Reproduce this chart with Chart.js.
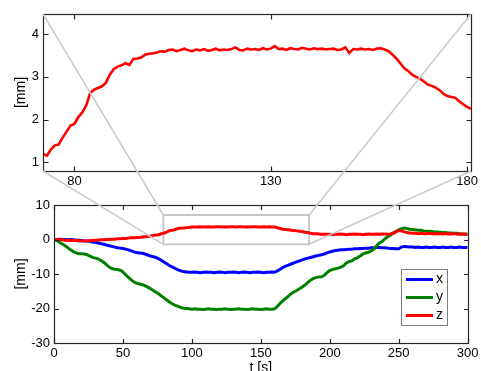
<!DOCTYPE html>
<html><head><meta charset="utf-8">
<script src="https://cdn.jsdelivr.net/npm/chart.js@4.4.0/dist/chart.umd.min.js"></script>
<style>
html,body{margin:0;padding:0;background:#fff;overflow:hidden;width:481px;height:371px}
#wrap{position:relative;width:481px;height:371px;overflow:hidden;background:#fff}
canvas{position:absolute;left:0}
#top{top:0}#bot{top:192px}#ov{top:0;pointer-events:none}
</style></head><body>
<div id="wrap">
<canvas id="top" width="481" height="192"></canvas>
<canvas id="bot" width="481" height="200"></canvas>
<canvas id="ov" width="481" height="371"></canvas>
</div>
<script>
// ---- bottom plot data: time [s] and x, y, z [mm]
const t = [
0,2,4,6,8,10,12,14,16,18,
20,22,24,26,28,30,32,34,36,38,
40,42,44,46,48,50,52,54,56,58,
60,62,64,66,68,70,72,74,76,78,
80,82,84,86,88,90,92,94,96,98,
100,102,104,106,108,110,112,114,116,118,
120,122,124,126,128,130,132,134,136,138,
140,142,144,146,148,150,152,154,156,158,
160,162,164,166,168,170,172,174,176,178,
180,182,184,186,188,190,192,194,196,198,
200,202,204,206,208,210,212,214,216,218,
220,222,224,226,228,230,232,234,236,238,
240,242,244,246,248,250,252,254,256,258,
260,262,264,266,268,270,272,274,276,278,
280,282,284,286,288,290,292,294,296,298,
300];
const xSeries = [
0,0,0.1,0,0,-0.1,0,-0.1,-0.2,-0.2,
-0.3,-0.4,-0.4,-0.5,-0.7,-0.8,-1.0,-1.2,-1.4,-1.6,
-1.8,-2.0,-2.2,-2.4,-2.5,-2.6,-2.8,-3.0,-3.3,-3.6,
-3.8,-3.9,-4.0,-4.2,-4.5,-4.8,-5.0,-5.2,-5.6,-6.1,
-6.6,-7.1,-7.6,-8.0,-8.4,-8.8,-9.1,-9.3,-9.4,-9.5,
-9.5,-9.4,-9.5,-9.6,-9.5,-9.4,-9.5,-9.5,-9.6,-9.5,
-9.4,-9.5,-9.6,-9.5,-9.5,-9.4,-9.5,-9.6,-9.5,-9.4,
-9.5,-9.6,-9.5,-9.5,-9.4,-9.5,-9.6,-9.5,-9.5,-9.4,
-9.5,-9.1,-8.6,-8.1,-7.7,-7.4,-7.1,-6.8,-6.5,-6.2,
-5.9,-5.6,-5.4,-5.2,-5.0,-4.8,-4.6,-4.4,-4.2,-3.9,
-3.6,-3.4,-3.2,-3.1,-3.0,-3.0,-2.9,-2.8,-2.8,-2.7,
-2.7,-2.6,-2.6,-2.5,-2.5,-2.4,-2.4,-2.3,-2.3,-2.4,
-2.4,-2.5,-2.6,-2.6,-2.7,-2.7,-2.2,-2.0,-2.1,-2.2,
-2.2,-2.3,-2.2,-2.3,-2.3,-2.2,-2.3,-2.3,-2.2,-2.3,
-2.3,-2.2,-2.3,-2.3,-2.2,-2.3,-2.3,-2.2,-2.3,-2.3,
-2.3];
const ySeries = [
0,-0.3,-0.8,-1.3,-1.8,-2.4,-3.0,-3.5,-3.9,-4.1,
-4.1,-4.2,-4.4,-4.8,-5.2,-5.4,-5.6,-6.1,-6.6,-7.3,
-8.0,-8.4,-8.6,-8.7,-8.9,-9.4,-10.2,-11.0,-11.7,-12.3,
-12.7,-12.9,-13.1,-13.4,-13.8,-14.3,-14.8,-15.3,-15.8,-16.4,
-17.0,-17.6,-18.2,-18.7,-19.1,-19.4,-19.7,-19.9,-20.0,-20.1,
-20.2,-20.1,-20.2,-20.2,-20.3,-20.2,-20.1,-20.2,-20.2,-20.3,
-20.2,-20.2,-20.1,-20.2,-20.3,-20.2,-20.2,-20.1,-20.2,-20.2,
-20.3,-20.2,-20.1,-20.2,-20.2,-20.3,-20.2,-20.1,-20.2,-20.2,
-20.1,-19.4,-18.5,-17.7,-17.1,-16.4,-15.7,-15.2,-14.8,-14.3,
-13.8,-13.2,-12.5,-11.8,-11.3,-11.0,-10.9,-10.8,-10.4,-9.6,
-9.0,-8.7,-8.5,-8.3,-8.0,-7.6,-6.8,-6.4,-6.2,-5.6,
-5.3,-4.8,-4.2,-3.9,-3.7,-3.3,-2.8,-1.8,-1.0,-0.6,
0.2,0.8,1.3,1.9,2.4,2.8,3.1,3.3,3.2,3.0,
2.9,2.8,2.7,2.7,2.5,2.4,2.4,2.3,2.2,2.2,
2.1,2.0,2.0,1.9,1.9,1.8,1.8,1.7,1.6,1.6,
1.5];
const zSeries = [
0,0,-0.1,-0.1,-0.2,-0.2,-0.3,-0.3,-0.3,-0.4,
-0.4,-0.4,-0.4,-0.3,-0.3,-0.2,-0.2,-0.1,-0.1,0,
0,0.1,0.1,0.2,0.2,0.3,0.3,0.4,0.5,0.5,
0.6,0.6,0.7,0.8,0.9,1.0,1.2,1.3,1.4,1.7,
1.9,2.2,2.6,2.7,2.9,3.2,3.3,3.3,3.4,3.5,
3.6,3.6,3.6,3.7,3.6,3.6,3.7,3.6,3.6,3.7,
3.7,3.6,3.7,3.6,3.7,3.7,3.6,3.7,3.7,3.6,
3.7,3.6,3.7,3.7,3.6,3.6,3.7,3.6,3.7,3.6,
3.6,3.4,3.2,3.0,2.9,2.8,2.7,2.6,2.5,2.4,
2.3,2.1,2.0,1.8,1.7,1.7,1.6,1.5,1.5,1.5,
1.5,1.4,1.5,1.5,1.6,1.5,1.4,1.5,1.5,1.6,
1.5,1.5,1.4,1.5,1.6,1.5,1.5,1.6,1.5,1.6,
1.6,1.5,1.6,1.8,2.2,2.6,2.5,2.2,2.0,1.9,
1.8,1.8,1.7,1.8,1.7,1.7,1.8,1.7,1.7,1.6,
1.7,1.6,1.7,1.6,1.6,1.7,1.6,1.5,1.6,1.5,
1.5];
const seriesNames = ['x','y','z'];

// ---- top (zoomed) plot: z between 72 s and 181 s
const tZoom = [
72,73,74,75,76,77,78,79,80,81,
82,83,84,85,86,87,88,89,90,91,
92,93,94,95,96,97,98,99,100,101,
102,103,104,105,106,107,108,109,110,111,
112,113,114,115,116,117,118,119,120,121,
122,123,124,125,126,127,128,129,130,131,
132,133,134,135,136,137,138,139,140,141,
142,143,144,145,146,147,148,149,150,151,
152,153,154,155,156,157,158,159,160,161,
162,163,164,165,166,167,168,169,170,171,
172,173,174,175,176,177,178,179,180,181];
const zZoom = [
1.20,1.16,1.30,1.40,1.42,1.58,1.72,1.86,1.90,2.06,
2.17,2.33,2.62,2.70,2.74,2.78,2.86,3.05,3.18,3.24,
3.27,3.32,3.28,3.42,3.43,3.45,3.52,3.54,3.55,3.57,
3.60,3.59,3.63,3.64,3.60,3.63,3.66,3.62,3.60,3.64,
3.62,3.65,3.61,3.63,3.66,3.62,3.64,3.63,3.65,3.69,
3.63,3.62,3.66,3.64,3.65,3.63,3.67,3.64,3.66,3.72,
3.65,3.66,3.63,3.67,3.65,3.64,3.68,3.66,3.64,3.67,
3.65,3.66,3.64,3.65,3.66,3.63,3.64,3.69,3.56,3.65,
3.64,3.66,3.64,3.65,3.63,3.66,3.67,3.64,3.60,3.52,
3.43,3.32,3.20,3.14,3.05,3.00,2.96,2.89,2.82,2.79,
2.75,2.69,2.60,2.55,2.53,2.51,2.43,2.36,2.30,2.25];

// ---- axes
const topXRange = [72, 181], topYRange = [0.8, 4.47];
const topXTicks = [80, 130, 180], topYTicks = [1, 2, 3, 4];
const botXRange = [0, 300], botYRange = [-30, 10];
const botXTicks = [0, 50, 100, 150, 200, 250, 300], botYTicks = [-30, -20, -10, 0, 10];
// zoom rectangle in bottom-plot data units
const boxT = [79.3, 185], boxV = [-1.4, 7.1];

const COLORS = {x: '#0000ff', y: '#008000', z: '#ff0000'};
const FAM = '"Liberation Sans", Arial, Helvetica, sans-serif';
Chart.defaults.font.family = FAM;
Chart.defaults.font.size = 13;
Chart.defaults.color = '#000';
const TITLE_FONT = {family: FAM, size: 14, weight: 'normal'};

const pts = (xs, ys) => xs.map((v, i) => ({x: v, y: ys[i]}));

const boxPlugin = {
  id: 'mbox',
  afterDatasetsDraw(chart, args, opts) {
    const {ctx, chartArea: a, scales} = chart;
    const L = Math.round(a.left) + 0.5, R = Math.round(a.right) + 0.5;
    const T = Math.round(a.top) + 0.5, B = Math.round(a.bottom) + 0.5;
    ctx.save();
    ctx.strokeStyle = '#262626';
    ctx.lineWidth = 1.2;
    ctx.strokeRect(L, T, R - L, B - T);
    const len = opts.len;
    ctx.beginPath();
    scales.x.ticks.forEach(tk => {
      const p = Math.round(scales.x.getPixelForValue(tk.value)) + 0.5;
      ctx.moveTo(p, B); ctx.lineTo(p, B - len);
      ctx.moveTo(p, T); ctx.lineTo(p, T + len);
    });
    scales.y.ticks.forEach(tk => {
      const p = Math.round(scales.y.getPixelForValue(tk.value)) + 0.5;
      ctx.moveTo(L, p); ctx.lineTo(L + len, p);
      ctx.moveTo(R, p); ctx.lineTo(R - len, p);
    });
    ctx.stroke();
    ctx.restore();
  }
};

const legendPlugin = {
  id: 'inlegend',
  afterDraw(chart) {
    const {ctx, chartArea: a} = chart;
    const w = 46, h = 56;
    const x0 = Math.round(a.right) - 67, y0 = Math.round(a.top) + 64;
    ctx.save();
    ctx.fillStyle = '#fff';
    ctx.fillRect(x0, y0, w, h);
    ctx.strokeStyle = '#7f7f7f';
    ctx.lineWidth = 1;
    ctx.strokeRect(x0 + 0.5, y0 + 0.5, w, h);
    const items = chart.data.datasets.filter(d => seriesNames.includes(d.label));
    ctx.font = '14px ' + FAM;
    ctx.textBaseline = 'middle';
    ctx.textAlign = 'left';
    items.forEach((d, i) => {
      const yy = y0 + 10.5 + i * 18;
      ctx.strokeStyle = d.borderColor;
      ctx.lineWidth = 3;
      ctx.beginPath(); ctx.moveTo(x0 + 5, yy); ctx.lineTo(x0 + 32, yy); ctx.stroke();
      ctx.fillStyle = '#000';
      ctx.fillText(d.label, x0 + 35, yy);
    });
    ctx.restore();
  }
};

function axis(range, ticks, fit, pad, extra) {
  return Object.assign({
    type: 'linear', min: range[0], max: range[1],
    grid: {display: false, drawTicks: false},
    border: {display: false},
    afterBuildTicks: s => { s.ticks = ticks.map(v => ({value: v})); },
    afterFit: fit,
    ticks: {padding: pad, autoSkip: false, maxRotation: 0, color: '#000', font: {family: FAM, size: 13}}
  }, extra || {});
}

const topChart = new Chart(document.getElementById('top'), {
  type: 'line',
  data: {datasets: [{label: 'z', data: pts(tZoom, zZoom), borderColor: COLORS.z, borderWidth: 2.6, pointRadius: 0, tension: 0}]},
  options: {
    responsive: false, animation: false, events: [],
    layout: {padding: {left: 0, top: 14, right: 10, bottom: 0}},
    plugins: {legend: {display: false}, tooltip: {enabled: false}, mbox: {len: 5}},
    scales: {
      x: axis(topXRange, topXTicks, s => { s.height = 21; }, 3),
      y: axis(topYRange, topYTicks, s => { s.width = 43; }, 4,
        {title: {display: true, text: '[mm]', color: '#000', font: TITLE_FONT, padding: {top: 13, bottom: 0}}})
    }
  },
  plugins: [boxPlugin]
});

const botChart = new Chart(document.getElementById('bot'), {
  type: 'line',
  data: {datasets: [
    {label: 'x', data: pts(t, xSeries), borderColor: COLORS.x, borderWidth: 3, pointRadius: 0, tension: 0, order: 3},
    {label: 'y', data: pts(t, ySeries), borderColor: COLORS.y, borderWidth: 3, pointRadius: 0, tension: 0, order: 2},
    {label: 'z', data: pts(t, zSeries), borderColor: COLORS.z, borderWidth: 3, pointRadius: 0, tension: 0, order: 1},
    {label: 'zoom', data: [{x: boxT[0], y: boxV[0]}, {x: boxT[1], y: boxV[0]}, {x: boxT[1], y: boxV[1]}, {x: boxT[0], y: boxV[1]}, {x: boxT[0], y: boxV[0]}],
     borderColor: '#c4c4c4', borderWidth: 1.8, pointRadius: 0, tension: 0, order: 4}
  ]},
  options: {
    responsive: false, animation: false, events: [],
    layout: {padding: {left: 0, top: 13, right: 13, bottom: 0}},
    plugins: {legend: {display: false}, tooltip: {enabled: false}, mbox: {len: 4.5}},
    scales: {
      x: axis(botXRange, botXTicks, s => { s.height = 49; }, 2.5,
        {title: {display: true, text: 't [s]', color: '#000', font: TITLE_FONT, padding: {top: 0, bottom: 15.5}}}),
      y: axis(botYRange, botYTicks, s => { s.width = 54; }, 4,
        {title: {display: true, text: '[mm]', color: '#000', font: TITLE_FONT, padding: {top: 13, bottom: 0}}})
    }
  },
  plugins: [boxPlugin, legendPlugin]
});

// connecting lines between the zoom rectangle and the zoomed axes
(function drawConnectors() {
  const ctx = document.getElementById('ov').getContext('2d');
  const ta = topChart.chartArea;
  const off = 192;
  const bx = botChart.scales.x, by = botChart.scales.y;
  const bl = bx.getPixelForValue(boxT[0]), br = bx.getPixelForValue(boxT[1]);
  const bt = by.getPixelForValue(boxV[1]) + off, bb = by.getPixelForValue(boxV[0]) + off;
  ctx.strokeStyle = '#cccccc';
  ctx.lineWidth = 1.6;
  ctx.beginPath();
  ctx.moveTo(ta.left, ta.top); ctx.lineTo(bl, bt);
  ctx.moveTo(ta.left, ta.bottom); ctx.lineTo(bl, bb);
  ctx.moveTo(ta.right, ta.top); ctx.lineTo(br, bt);
  ctx.moveTo(ta.right, ta.bottom); ctx.lineTo(br, bb);
  ctx.stroke();
})();
</script>
</body></html>
